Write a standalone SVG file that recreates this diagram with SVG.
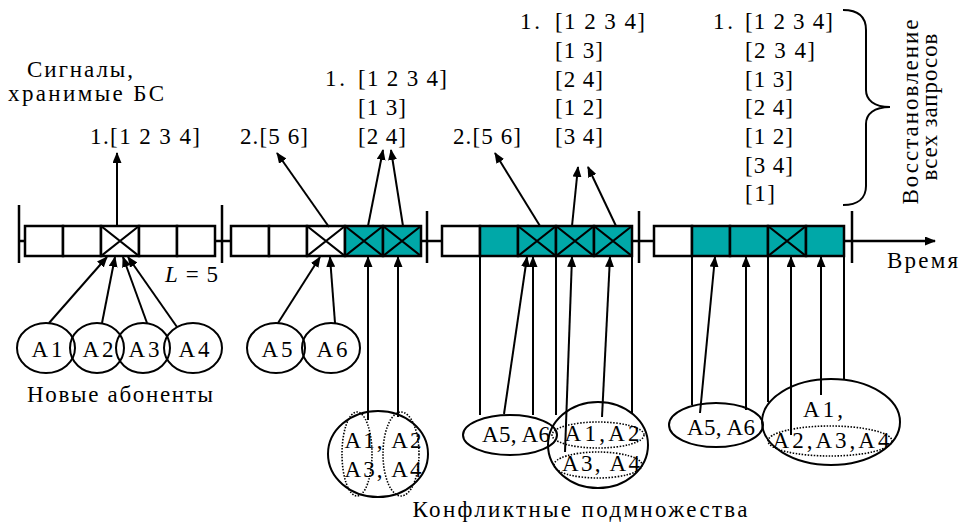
<svg xmlns="http://www.w3.org/2000/svg" width="960" height="527" viewBox="0 0 960 527">
<defs>
<marker id="ah" markerUnits="userSpaceOnUse" markerWidth="11" markerHeight="9" refX="10" refY="4.5" orient="auto"><path d="M0,0 L11,4.5 L0,9 z" fill="#000"/></marker>
<style>
.t{font-family:"Liberation Serif","Times New Roman",serif;font-size:23px;fill:#000}
.c{fill:#fff;stroke:#000;stroke-width:2.5}
.g{fill:#00A8A8;stroke:#000;stroke-width:2.5}
.x{stroke:#000;stroke-width:2.2;fill:none}
.bar{stroke:#000;stroke-width:2.5}
.ln{stroke:#000;stroke-width:2;fill:none}
.ar{stroke:#000;stroke-width:2;fill:none;marker-end:url(#ah)}
.el{fill:none;stroke:#000;stroke-width:2}
.dt{fill:none;stroke:#000;stroke-width:1.6;stroke-dasharray:1.5 1.5}
</style>
</defs>
<rect width="960" height="527" fill="#fff"/>

<g id="timeline">
<line class="bar" x1="19" y1="205" x2="19" y2="263"/>
<line class="bar" x1="19" y1="241" x2="25" y2="241"/>
<line class="bar" x1="215" y1="241" x2="231" y2="241"/>
<line class="bar" x1="222" y1="205" x2="222" y2="263"/>
<line class="bar" x1="421" y1="241" x2="442" y2="241"/>
<line class="bar" x1="427" y1="211" x2="427" y2="263"/>
<line class="bar" x1="632" y1="241" x2="654" y2="241"/>
<line class="bar" x1="639" y1="211" x2="639" y2="263"/>
<line class="bar" x1="852" y1="211" x2="852" y2="263"/>
<line class="bar" x1="844" y1="241" x2="935" y2="241" marker-end="url(#ah)"/>
</g>

<g id="frame1">
<rect class="c" x="25" y="226" width="38" height="30"/>
<rect class="c" x="63" y="226" width="38" height="30"/>
<rect class="c" x="101" y="226" width="38" height="30"/>
<path class="x" d="M101,226 L139,256 M139,226 L101,256"/>
<rect class="c" x="139" y="226" width="38" height="30"/>
<rect class="c" x="177" y="226" width="38" height="30"/>
</g>

<g id="frame2">
<rect class="c" x="231" y="226" width="38" height="30"/>
<rect class="c" x="269" y="226" width="38" height="30"/>
<rect class="c" x="307" y="226" width="38" height="30"/>
<path class="x" d="M307,226 L345,256 M345,226 L307,256"/>
<rect class="g" x="345" y="226" width="38" height="30"/>
<path class="x" d="M345,226 L383,256 M383,226 L345,256"/>
<rect class="g" x="383" y="226" width="38" height="30"/>
<path class="x" d="M383,226 L421,256 M421,226 L383,256"/>
</g>

<g id="frame3">
<rect class="c" x="442" y="226" width="38" height="30"/>
<rect class="g" x="480" y="226" width="38" height="30"/>
<rect class="g" x="518" y="226" width="38" height="30"/>
<path class="x" d="M518,226 L556,256 M556,226 L518,256"/>
<rect class="g" x="556" y="226" width="38" height="30"/>
<path class="x" d="M556,226 L594,256 M594,226 L556,256"/>
<rect class="g" x="594" y="226" width="38" height="30"/>
<path class="x" d="M594,226 L632,256 M632,226 L594,256"/>
</g>

<g id="frame4">
<rect class="c" x="654" y="226" width="38" height="30"/>
<rect class="g" x="692" y="226" width="38" height="30"/>
<rect class="g" x="730" y="226" width="38" height="30"/>
<rect class="g" x="768" y="226" width="38" height="30"/>
<path class="x" d="M768,226 L806,256 M806,226 L768,256"/>
<rect class="g" x="806" y="226" width="38" height="30"/>
</g>

<g id="connectors">
<line class="ar" x1="117" y1="226" x2="117" y2="153"/>
<line class="ar" x1="329" y1="227" x2="277" y2="153"/>
<line class="ar" x1="368" y1="226" x2="383" y2="150"/>
<line class="ar" x1="403" y1="226" x2="391" y2="150"/>
<line class="ar" x1="540" y1="226" x2="495" y2="153"/>
<line class="ar" x1="572" y1="226" x2="578" y2="167"/>
<line class="ar" x1="616" y1="226" x2="588" y2="167"/>

<line class="ar" x1="49" y1="323" x2="107" y2="257"/>
<line class="ar" x1="102" y1="323" x2="115" y2="257"/>
<line class="ar" x1="147" y1="323" x2="123" y2="257"/>
<line class="ar" x1="177" y1="327" x2="128" y2="257"/>

<line class="ar" x1="278" y1="323" x2="320" y2="257"/>
<line class="ar" x1="335" y1="323" x2="330" y2="257"/>
<line class="ar" x1="368" y1="420" x2="368" y2="257"/>
<line class="ar" x1="398" y1="417" x2="398" y2="257"/>

<line class="ln" x1="480" y1="256" x2="480" y2="415"/>
<line class="ar" x1="504" y1="414" x2="527" y2="257"/>
<line class="ar" x1="533" y1="415" x2="533" y2="257"/>
<line class="ln" x1="556" y1="256" x2="556" y2="415"/>
<line class="ar" x1="565" y1="452" x2="572" y2="257"/>
<line class="ar" x1="602" y1="417" x2="610" y2="257"/>
<line class="ln" x1="632" y1="256" x2="632" y2="413"/>

<line class="ln" x1="692" y1="256" x2="692" y2="405"/>
<line class="ar" x1="700" y1="413" x2="715" y2="257"/>
<line class="ar" x1="746" y1="410" x2="746" y2="257"/>
<line class="ln" x1="768" y1="256" x2="768" y2="402"/>
<line class="ar" x1="791" y1="435" x2="791" y2="257"/>
<line class="ar" x1="821" y1="395" x2="821" y2="257"/>
<line class="ln" x1="844" y1="256" x2="844" y2="379"/>
</g>

<g id="A1"><ellipse class="el" cx="46" cy="348" rx="29" ry="25"/><text class="t" x="47" y="357" text-anchor="middle" font-size="24" textLength="31" lengthAdjust="spacing">A1</text></g>
<g id="A2"><ellipse class="el" cx="97" cy="348" rx="27" ry="25"/><text class="t" x="98" y="357" text-anchor="middle" font-size="24" textLength="31" lengthAdjust="spacing">A2</text></g>
<g id="A3"><ellipse class="el" cx="143" cy="348" rx="27" ry="25"/><text class="t" x="144" y="357" text-anchor="middle" font-size="24" textLength="31" lengthAdjust="spacing">A3</text></g>
<g id="A4"><ellipse class="el" cx="193" cy="348" rx="29" ry="25"/><text class="t" x="194" y="357" text-anchor="middle" font-size="24" textLength="31" lengthAdjust="spacing">A4</text></g>
<g id="A5"><ellipse class="el" cx="276" cy="348" rx="29" ry="25"/><text class="t" x="277" y="357" text-anchor="middle" font-size="24" textLength="31" lengthAdjust="spacing">A5</text></g>
<g id="A6"><ellipse class="el" cx="331" cy="348" rx="29" ry="25"/><text class="t" x="332" y="357" text-anchor="middle" font-size="24" textLength="31" lengthAdjust="spacing">A6</text></g>

<g id="conflict2">
<ellipse class="el" cx="378" cy="454" rx="50" ry="43"/>
<ellipse class="dt" cx="357" cy="454" rx="15" ry="42"/>
<ellipse class="dt" cx="401" cy="454" rx="18" ry="42"/>
<text class="t" x="383" y="448" text-anchor="middle" font-size="24" textLength="77" lengthAdjust="spacing">A1, A2</text>
<text class="t" x="383" y="477" text-anchor="middle" font-size="24" textLength="77" lengthAdjust="spacing">A3, A4</text>
</g>

<g id="A56f3"><ellipse class="el" cx="510" cy="435" rx="47" ry="20"/><text class="t" x="516" y="442" text-anchor="middle" font-size="23" textLength="68" lengthAdjust="spacing">A5, A6</text></g>
<g id="conflict3">
<ellipse class="el" cx="598" cy="445" rx="50" ry="43"/>
<ellipse class="dt" cx="598" cy="435" rx="46" ry="13"/>
<ellipse class="dt" cx="598" cy="465" rx="44" ry="13"/>
<text class="t" x="602" y="441" text-anchor="middle" font-size="24" textLength="75" lengthAdjust="spacing">A1,A2</text>
<text class="t" x="601" y="471" text-anchor="middle" font-size="24" textLength="78" lengthAdjust="spacing">A3, A4</text>
</g>

<g id="A56f4"><ellipse class="el" cx="716" cy="425" rx="47" ry="22"/><text class="t" x="721" y="435" text-anchor="middle" font-size="23" textLength="68" lengthAdjust="spacing">A5, A6</text></g>
<g id="conflict4">
<ellipse class="el" cx="831" cy="422" rx="69" ry="43"/>
<ellipse class="dt" cx="830" cy="441" rx="62" ry="15"/>
<text class="t" x="823" y="417" text-anchor="middle" font-size="24" textLength="40" lengthAdjust="spacing">A1,</text>
<text class="t" x="831" y="448" text-anchor="middle" font-size="24" textLength="117" lengthAdjust="spacing">A2,A3,A4</text>
</g>

<g id="labels">
<text class="t" x="27" y="77" font-size="20" textLength="106" lengthAdjust="spacing">Сигналы,</text>
<text class="t" x="8" y="101" font-size="20" textLength="156" lengthAdjust="spacing">хранимые БС</text>
<text class="t" x="90" y="144" textLength="110" lengthAdjust="spacing">1.[1 2 3 4]</text>
<text class="t" x="240" y="144" textLength="68" lengthAdjust="spacing">2.[5 6]</text>
<text class="t" x="325" y="86" textLength="20" lengthAdjust="spacing">1.</text>
<text class="t" x="358" y="86" textLength="89" lengthAdjust="spacing">[1 2 3 4]</text>
<text class="t" x="358" y="115" textLength="48" lengthAdjust="spacing">[1 3]</text>
<text class="t" x="358" y="144" textLength="48" lengthAdjust="spacing">[2 4]</text>
<text class="t" x="453" y="144" textLength="68" lengthAdjust="spacing">2.[5 6]</text>
<text class="t" x="520" y="29" textLength="20" lengthAdjust="spacing">1.</text>
<text class="t" x="555" y="29" textLength="90" lengthAdjust="spacing">[1 2 3 4]</text>
<text class="t" x="555" y="58" textLength="48" lengthAdjust="spacing">[1 3]</text>
<text class="t" x="555" y="87" textLength="48" lengthAdjust="spacing">[2 4]</text>
<text class="t" x="555" y="115" textLength="48" lengthAdjust="spacing">[1 2]</text>
<text class="t" x="555" y="144" textLength="48" lengthAdjust="spacing">[3 4]</text>
<text class="t" x="713" y="29" textLength="20" lengthAdjust="spacing">1.</text>
<text class="t" x="745" y="29" textLength="88" lengthAdjust="spacing">[1 2 3 4]</text>
<text class="t" x="745" y="58" textLength="70" lengthAdjust="spacing">[2 3 4]</text>
<text class="t" x="745" y="87" textLength="48" lengthAdjust="spacing">[1 3]</text>
<text class="t" x="745" y="115" textLength="48" lengthAdjust="spacing">[2 4]</text>
<text class="t" x="745" y="144" textLength="48" lengthAdjust="spacing">[1 2]</text>
<text class="t" x="745" y="173" textLength="48" lengthAdjust="spacing">[3 4]</text>
<text class="t" x="745" y="201" textLength="30" lengthAdjust="spacing">[1]</text>
<path class="ln" d="M843,10 C858,10 866,16 866,30 L866,90 C866,100 874,107 890,107 C874,107 866,114 866,124 L866,186 C866,198 858,205 843,205"/>
<text class="t" transform="translate(918,112) rotate(-90)" text-anchor="middle" textLength="185" lengthAdjust="spacing">Восстановление</text>
<text class="t" transform="translate(937,107) rotate(-90)" text-anchor="middle" textLength="147" lengthAdjust="spacing">всех запросов</text>
<text class="t" x="887" y="268" textLength="71" lengthAdjust="spacing">Время</text>
<text class="t" x="165" y="282" textLength="53" lengthAdjust="spacing"><tspan font-style="italic">L</tspan> = 5</text>
<text class="t" x="27" y="402" textLength="186" lengthAdjust="spacing">Новые абоненты</text>
<text class="t" x="580" y="517" text-anchor="middle" textLength="335" lengthAdjust="spacing">Конфликтные подмножества</text>
</g>
</svg>
